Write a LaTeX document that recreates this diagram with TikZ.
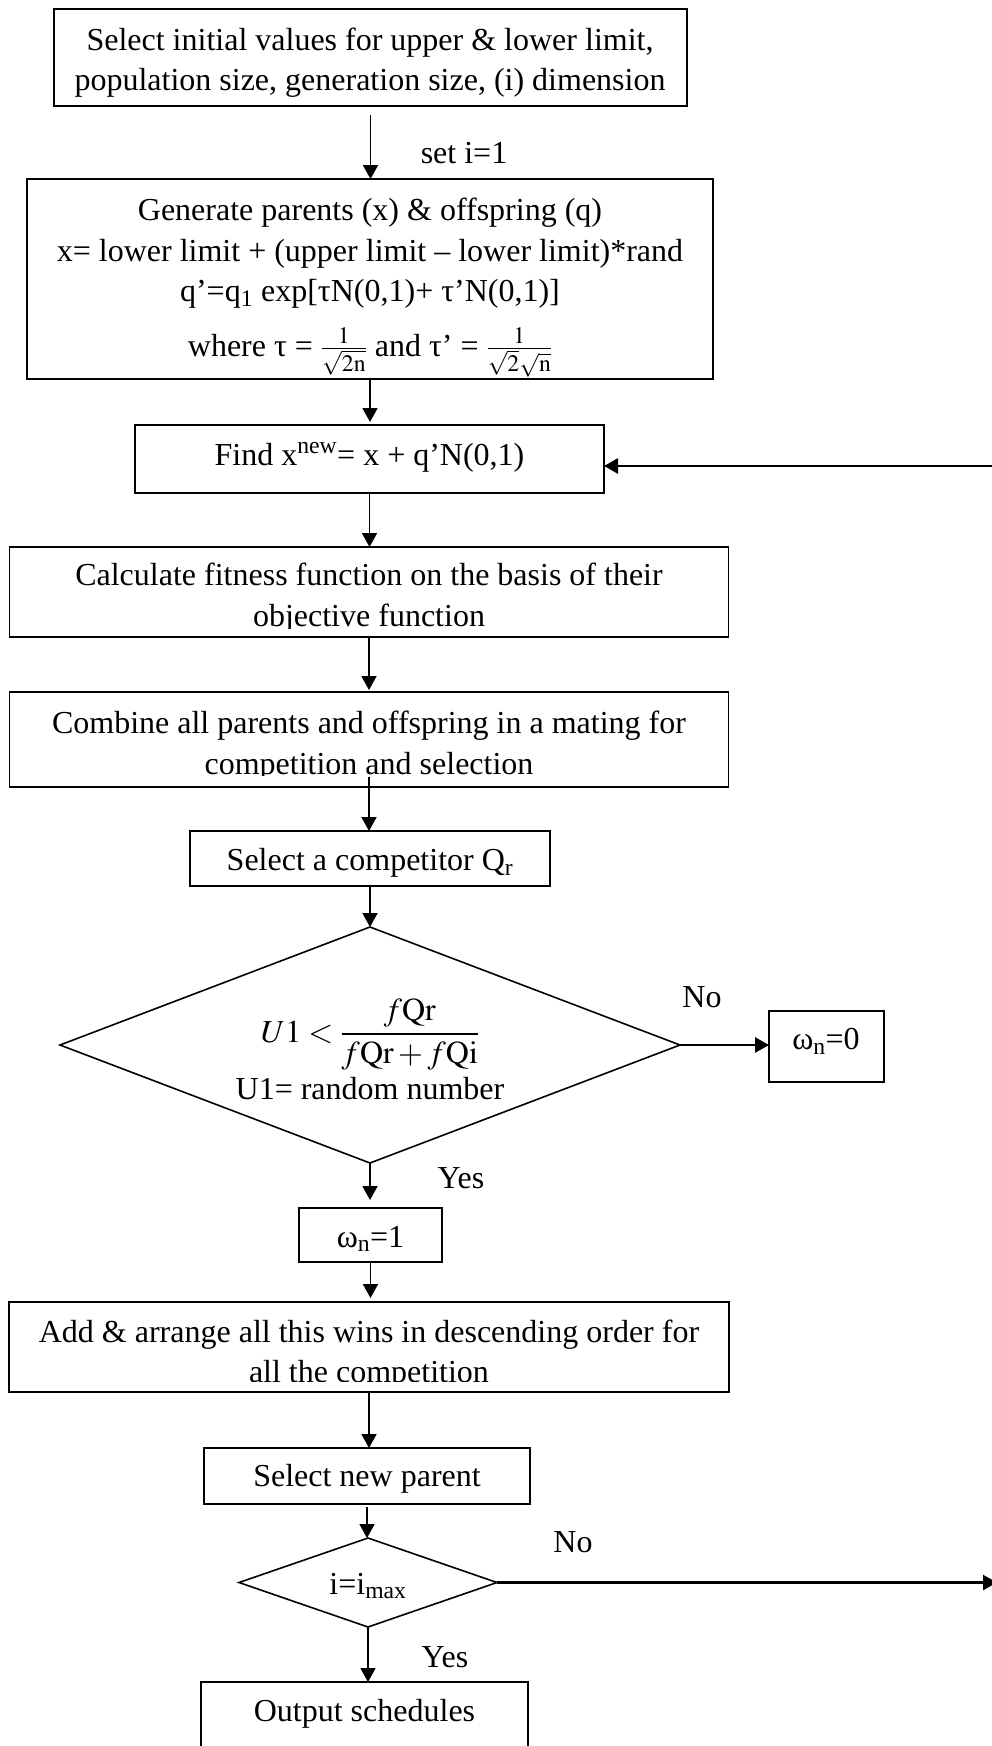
\documentclass[tikz,border=0pt]{standalone}
\usepackage{mathptmx}
\usepackage{fontspec}
\setmainfont{Liberation Serif}
\usetikzlibrary{arrows.meta,shapes.geometric}
\begin{document}
\begin{tikzpicture}[x=1pt,y=-1pt,
  box/.style={draw=black, line width=1.6pt, rectangle, inner sep=0pt, outer sep=0pt},
  dia/.style={draw=black, line width=1.6pt, diamond, inner sep=0pt, outer sep=0pt},
  txt/.style={font=\fontsize{32}{40.5}\selectfont, align=center, inner sep=0pt},
  arr/.style={line width=1.9pt, -{Triangle[length=14pt,width=15pt]}},
  thickarr/.style={line width=2.8pt, -{Triangle[length=14pt,width=15pt]}},
]
\useasboundingbox (0,0) rectangle (992,1746);

% boxes
\node[box, minimum width=633pt, minimum height=97pt] (b1) at (370.5,57.5) {};
\node[txt] (t1) at (370,62.5) {Select initial values for upper \& lower limit,\\population size, generation size, (i) dimension};

\node[box, minimum width=686pt, minimum height=200pt] (b2) at (370,279) {};
\node[txt, anchor=north] (t2) at (370,198) {Generate parents (x) \& offspring (q)\\x= lower limit + (upper limit – lower limit)*rand\\q’=q\textsubscript{1} exp[τN(0,1)+ τ’N(0,1)]\\[14pt]where τ = $\frac{1}{\sqrt{2\mathrm{n}}}$ and τ’ = $\frac{1}{\sqrt{2}\sqrt{\mathrm{n}}}$};

\node[box, minimum width=469pt, minimum height=68pt] (b3) at (369.5,459) {};
\node[txt] (t3) at (369.5,457.5) {Find x\textsuperscript{new}= x + q’N(0,1)};

\node[box, minimum width=719pt, minimum height=90pt] (b4) at (369,592) {};
\begin{scope}
  \clip (0,540) rectangle (992,628);
  \node[txt] (t4) at (369,598) {Calculate fitness function on the basis of their\\objective function};
\end{scope}

\node[box, minimum width=719pt, minimum height=95pt] (b5) at (369,739.5) {};
\begin{scope}
  \clip (0,690) rectangle (992,775);
  \node[txt] (t5) at (369,746) {Combine all parents and offspring in a mating for\\competition and selection};
\end{scope}

\node[box, minimum width=360pt, minimum height=55pt] (b6) at (370,858.5) {};
\node[txt] (t6) at (370,862.5) {Select a competitor Q\textsubscript{r}};

\node[dia, minimum width=620pt, minimum height=236pt] (d1) at (370,1045) {};
\node[txt] (td1) at (370,1049.5) {$U1<\displaystyle\frac{f\mathrm{Qr}}{f\mathrm{Qr}+f\mathrm{Qi}}$\\[6pt]U1= random number};

\node[box, minimum width=115pt, minimum height=71pt] (w0) at (826.5,1046.5) {};
\node[txt] (tw0) at (826,1041) {ω\textsubscript{n}=0};

\node[box, minimum width=143pt, minimum height=54pt] (w1) at (370.5,1235) {};
\node[txt] (tw1) at (370.5,1239) {ω\textsubscript{n}=1};

\node[box, minimum width=719.5pt, minimum height=90pt] (b7) at (369,1347) {};
\begin{scope}
  \clip (0,1295) rectangle (992,1381);
  \node[txt] (t7) at (369,1354.5) {Add \& arrange all this wins in descending order for\\all the competition};
\end{scope}

\node[box, minimum width=326pt, minimum height=56pt] (b8) at (367,1476) {};
\node[txt] (t8) at (367,1479) {Select new parent};

\node[dia, minimum width=258pt, minimum height=89pt] (d2) at (368,1582.5) {};
\node[txt] (td2) at (368,1586) {i=i\textsubscript{max}};

\node[box, minimum width=327pt, minimum height=90pt] (out) at (364.5,1727) {};
\node[txt] (tout) at (364.5,1714) {Output schedules};

% labels
\node[txt] (lset) at (464,153) {set i=1};
\node[txt] (lno1) at (702,997) {No};
\node[txt] (lyes1) at (461,1178) {Yes};
\node[txt] (lno2) at (573,1542) {No};
\node[txt] (lyes2) at (445,1657) {Yes};

% free ends at the right edge
\coordinate (edge1) at (1000,466);
\coordinate (edge2) at (997,1582.5);

% connectors
\draw[arr, shorten <=9pt] (b1.south) -- (b1.south |- b2.north);
\draw[arr, shorten >=3pt] (b2.south) -- (b2.south |- b3.north);
\draw[arr] (b3.south) -- (b3.south |- b4.north);
\draw[arr, shorten >=2pt] (b4.south) -- (b4.south |- b5.north);
\draw[arr, shorten <=-10pt] (b5.south) -- (b5.south |- b6.north);
\draw[arr] (b6.south) -- (b6.south |- d1.north);
\draw[thickarr] (d1.east) -- (w0.west |- d1.east);
\draw[arr, shorten >=8pt] (d1.south) -- (d1.south |- w1.north);
\draw[arr, shorten >=4pt] (w1.south) -- (w1.south |- b7.north);
\draw[arr] (b7.south) -- (b7.south |- b8.north);
\draw[arr, shorten <=3pt] (b8.south) -- (b8.south |- d2.north);
\draw[arr] (d2.south) -- (d2.south |- out.north);
\draw[thickarr, line width=2.3pt] (d2.east) -- (d2.east -| edge2);
\draw[thickarr] (edge1) -- (b3.east |- edge1);
\end{tikzpicture}
\end{document}
